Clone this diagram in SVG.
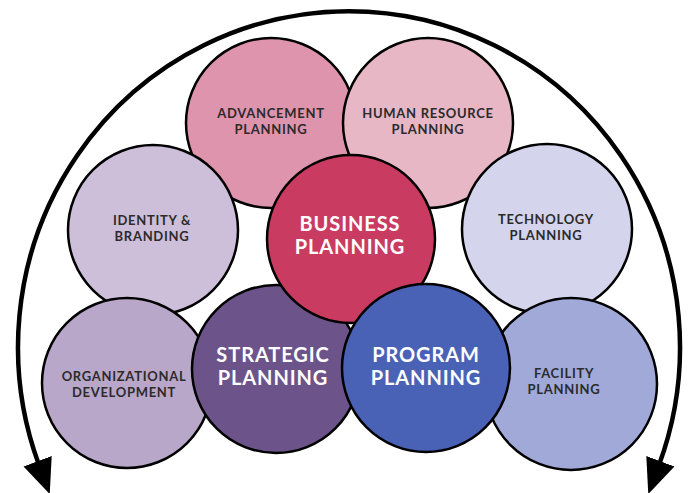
<svg xmlns="http://www.w3.org/2000/svg" width="689" height="493" viewBox="0 0 689 493">
  <defs>
    <marker id="arrow" markerUnits="userSpaceOnUse" markerWidth="36" markerHeight="34" refX="4" refY="17" orient="auto-start-reverse" viewBox="0 0 36 34">
      <path d="M0 2 L35 17 L0 32 Z" fill="#000"/>
    </marker>
    <style>
      .c { stroke: #000; stroke-width: 2.5; }
      .sm { font-family: Lato, "Open Sans", sans-serif; font-weight: 700; font-size: 13px; letter-spacing: 0.7px; fill: #2b2b2b; text-anchor: middle; }
      .lg { font-family: Lato, "Open Sans", sans-serif; font-weight: 700; font-size: 20px; letter-spacing: 0.9px; fill: #ffffff; text-anchor: middle; }
    </style>
  </defs>
  <rect width="689" height="493" fill="#ffffff"/>

  <!-- cycle arc with arrowheads at both ends -->
  <g id="connectors">
    <path d="M 39 465 A 331 336 0 1 1 659 465" fill="none" stroke="#000" stroke-width="4.5" marker-start="url(#arrow)" marker-end="url(#arrow)"/>
  </g>

  <g id="advancement">
    <circle class="c" cx="271" cy="123" r="85" fill="#df94ae"/>
    <text class="sm" x="271" y="118">ADVANCEMENT</text>
    <text class="sm" x="271" y="134">PLANNING</text>
  </g>
  <g id="human-resource">
    <circle class="c" cx="428" cy="123" r="85" fill="#e7b7c6"/>
    <text class="sm" x="428" y="118">HUMAN RESOURCE</text>
    <text class="sm" x="428" y="134">PLANNING</text>
  </g>
  <g id="identity">
    <circle class="c" cx="153" cy="230" r="85" fill="#cdbfd9"/>
    <text class="sm" x="152" y="225">IDENTITY &amp;</text>
    <text class="sm" x="152" y="241">BRANDING</text>
  </g>
  <g id="technology">
    <circle class="c" cx="547" cy="229" r="85" fill="#d4d4ec"/>
    <text class="sm" x="546" y="224">TECHNOLOGY</text>
    <text class="sm" x="546" y="240">PLANNING</text>
  </g>
  <g id="organizational">
    <circle class="c" cx="127" cy="383" r="85" fill="#b9a7c9"/>
    <text class="sm" x="124" y="381">ORGANIZATIONAL</text>
    <text class="sm" x="124" y="397">DEVELOPMENT</text>
  </g>
  <g id="facility">
    <circle class="c" cx="571" cy="384" r="86" fill="#a0a9d7"/>
    <text class="sm" x="564" y="378">FACILITY</text>
    <text class="sm" x="564" y="394">PLANNING</text>
  </g>
  <g id="strategic">
    <circle class="c" cx="276" cy="369" r="84" fill="#6c5389"/>
    <text class="lg" x="273" y="362">STRATEGIC</text>
    <text class="lg" x="273" y="385">PLANNING</text>
  </g>
  <g id="business">
    <circle class="c" cx="351" cy="239" r="84" fill="#c93b60"/>
    <text class="lg" x="350" y="231">BUSINESS</text>
    <text class="lg" x="350" y="254">PLANNING</text>
  </g>
  <g id="program">
    <circle class="c" cx="426" cy="368" r="84" fill="#4a62b6"/>
    <text class="lg" x="426" y="362">PROGRAM</text>
    <text class="lg" x="426" y="385">PLANNING</text>
  </g>
</svg>
